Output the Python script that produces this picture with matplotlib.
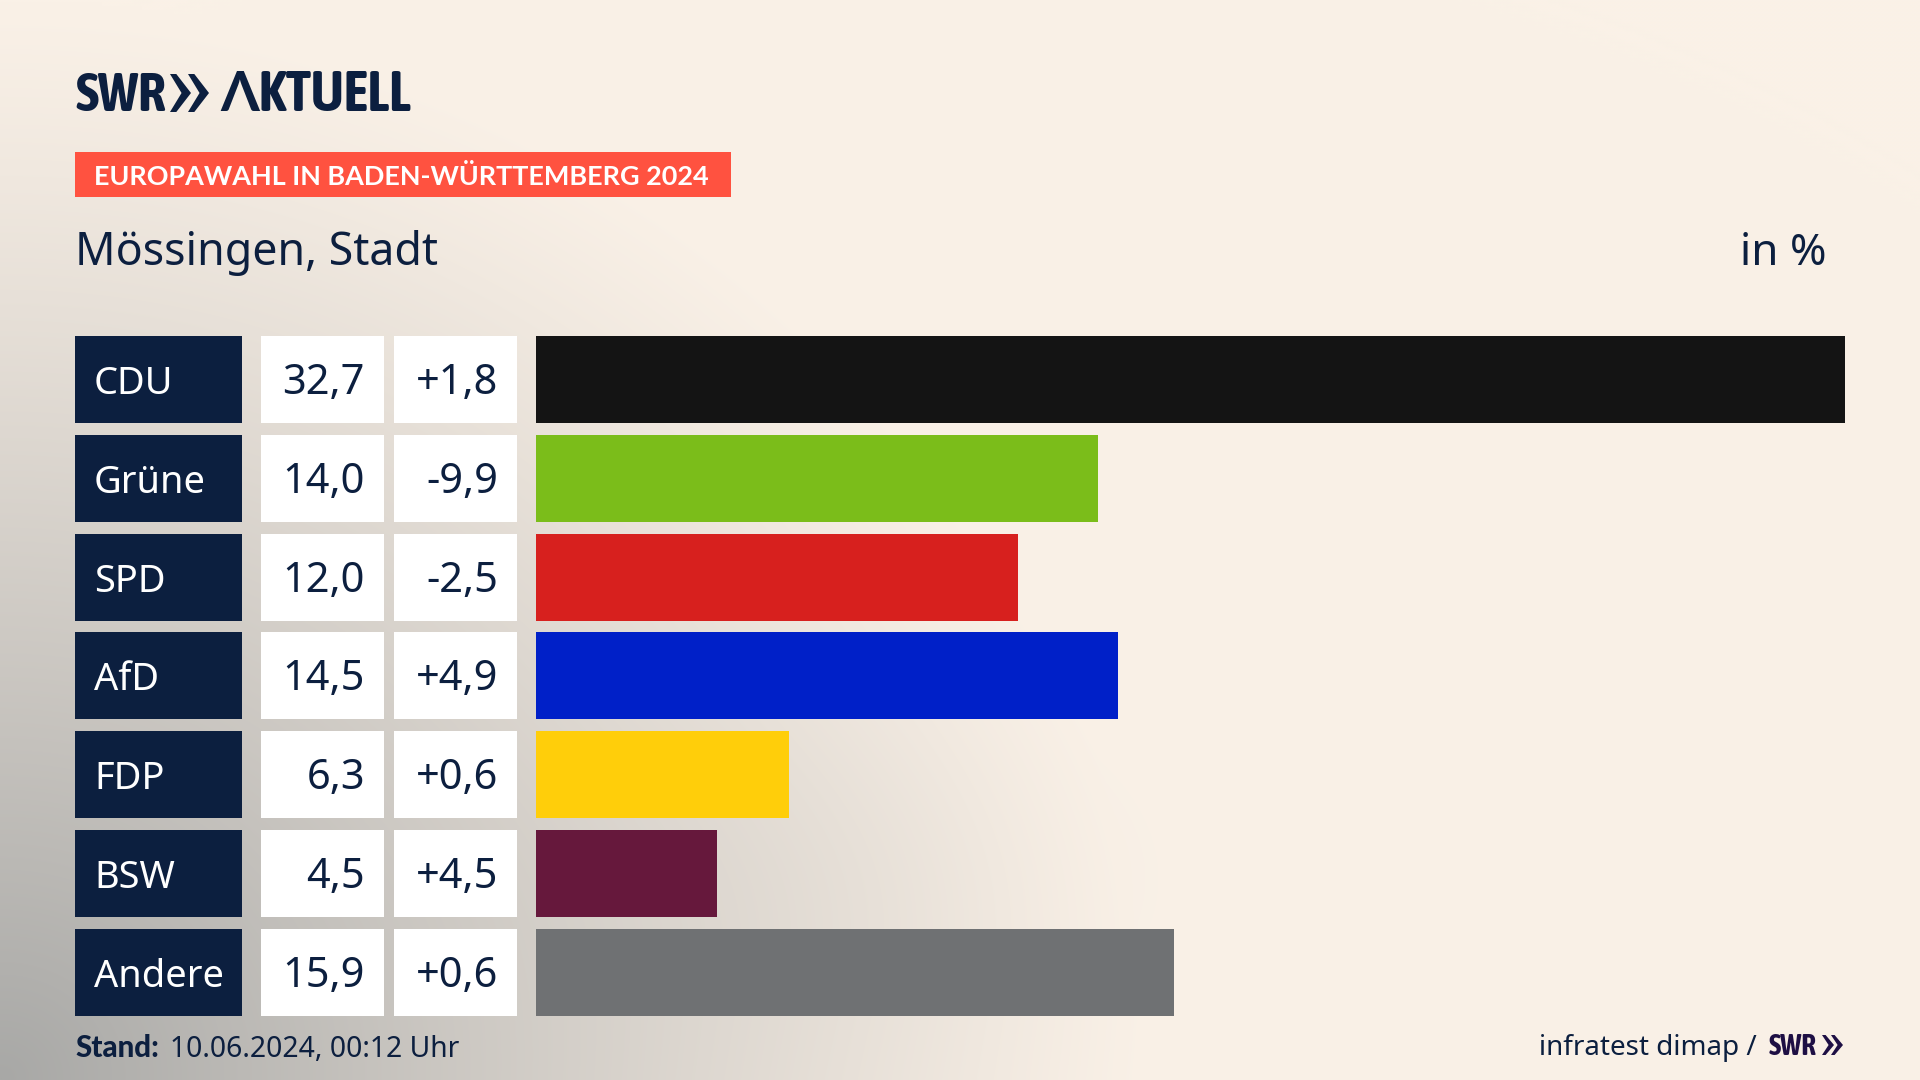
#!/usr/bin/env python3
"""Europawahl result card for Moessingen, drawn on a 1920x1080 canvas."""

import numpy as np
import matplotlib
matplotlib.use("Agg")
import matplotlib.pyplot as plt
from matplotlib.patches import Polygon, Rectangle

parties = ["CDU", "Grüne", "SPD", "AfD", "FDP", "BSW", "Andere"]
shares = [32.7, 14.0, 12.0, 14.5, 6.3, 4.5, 15.9]
changes = ["+1,8", "-9,9", "-2,5", "+4,9", "+0,6", "+4,5", "+0,6"]
bar_colors = ["#141414", "#7BBD1A", "#D7201E", "#0020C8", "#FFCE0A", "#66183C", "#6F7173"]

NAVY = "#0C1F3F"
CREAM = np.array([250, 241, 231]) / 255
GREY = np.array([168, 168, 166]) / 255
FONT = ["Noto Sans", "DejaVu Sans"]
LOGO_FONT = ["Asap Condensed", "Lato", "DejaVu Sans"]
BOLD_FONT = ["Lato", "DejaVu Sans"]

W, H = 1920, 1080
ROW_TOP, ROW_PITCH, ROW_H = 336, 98.83, 87


def px(size):
    """Font size in points for a size given in canvas pixels."""
    return size * 0.72


def background():
    yy, xx = np.mgrid[0:H:270j, 0:W:480j]
    # grey haze out of the bottom left corner
    d = np.hypot(xx / 1150, (H - yy) / 1080)
    a = np.clip(1 - d, 0, 1) ** 1.15
    # faint smudge behind the lower bars
    a2 = 0.05 * np.exp(-(((xx - 850) / 260) ** 2 + ((yy - 880) / 170) ** 2))
    a = np.clip(a + a2, 0, 1)[..., None]
    return CREAM * (1 - a) + GREY * a


def chevrons(ax, x0, y0, w, h, step, color):
    for x in (x0, x0 + step):
        ax.add_patch(Polygon([(x, y0), (x + 0.3 * w, y0), (x + w, y0 + h / 2), (x + 0.3 * w, y0 + h),
                              (x, y0 + h), (x + 0.55 * w, y0 + h / 2)], closed=True, fc=color, ec="none"))


fig = plt.figure(figsize=(19.2, 10.8), dpi=100)

# full canvas layer for background, boxes and text, in pixels
bg = fig.add_axes([0, 0, 1, 1])
bg.set_xlim(0, W)
bg.set_ylim(H, 0)
bg.axis("off")
bg.imshow(background(), extent=(0, W, H, 0), aspect="auto", interpolation="bilinear", zorder=0)

# --- Header ---
bg.text(75, 111, "SWR", fontsize=px(55), fontweight="bold", family=LOGO_FONT, color=NAVY)
chevrons(bg, 170, 74, 21, 38, 18, NAVY)
bg.text(220, 111, "ΛKTUELL", fontsize=px(56), fontweight="bold", family=LOGO_FONT, color=NAVY)

bg.add_patch(Rectangle((75, 152), 656, 45, fc="#FF5240", ec="none"))
bg.text(94, 185, "EUROPAWAHL IN BADEN-WÜRTTEMBERG 2024", fontsize=px(27), fontweight="bold",
        family=BOLD_FONT, color="white")

bg.text(75, 265, "Mössingen, Stadt", fontsize=px(44.7), family=FONT, color=NAVY)
bg.text(1826, 265, "in %", fontsize=px(44), family=FONT, color=NAVY, ha="right")

# --- Table cells ---
for i, (party, share, change) in enumerate(zip(parties, shares, changes)):
    top = ROW_TOP + i * ROW_PITCH
    base = top + ROW_H / 2 + 14.5
    bg.add_patch(Rectangle((75, top), 167, ROW_H, fc=NAVY, ec="none"))
    bg.add_patch(Rectangle((261, top), 123, ROW_H, fc="white", ec="none"))
    bg.add_patch(Rectangle((394, top), 123, ROW_H, fc="white", ec="none"))
    bg.text(94, base, party, fontsize=px(38), family=FONT, color="white")
    bg.text(365, base, f"{share:.1f}".replace(".", ","), fontsize=px(41.5), family=FONT, color=NAVY, ha="right")
    bg.text(498, base, change, fontsize=px(41.5), family=FONT, color=NAVY, ha="right")

# --- Bars ---
ax = fig.add_axes([536 / W, 1 - (ROW_TOP + 6 * ROW_PITCH + ROW_H) / H, (1845 - 536) / W,
                   (6 * ROW_PITCH + ROW_H) / H])
half = ROW_H / ROW_PITCH / 2
ax.barh(range(len(parties)), shares, height=2 * half, color=bar_colors)
# scale, the longest one stops at the axes edge
ax.set_xlim(0, 32.62)
ax.set_ylim(len(parties) - 1 + half, -half)
ax.axis("off")

# --- Footer ---
bg.text(75, 1057, "Stand:", fontsize=px(29.5), fontweight="black", family=BOLD_FONT, color=NAVY)
bg.text(170, 1057, "10.06.2024, 00:12 Uhr", fontsize=px(28.3), family=FONT, color=NAVY)
bg.text(1757, 1055, "infratest dimap /", fontsize=px(27.8), family=FONT, color=NAVY, ha="right")
bg.text(1769, 1055, "SWR", fontsize=px(29), fontweight="bold", family=LOGO_FONT, color="#1E0F44")
chevrons(bg, 1822, 1035, 12, 20, 9, "#1E0F44")

fig.savefig("out.png", dpi=100)
